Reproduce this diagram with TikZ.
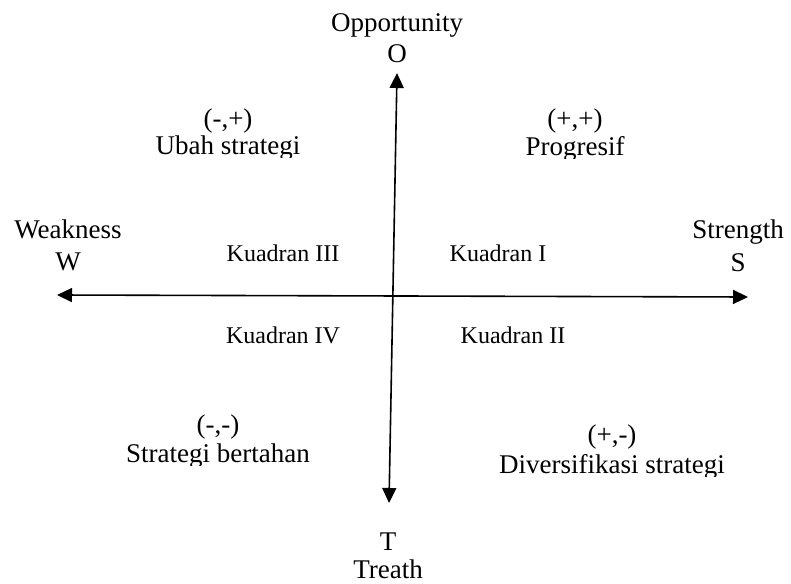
\documentclass[tikz,border=0pt]{standalone}
\usepackage{fontspec}
\setmainfont{Liberation Serif}
\usetikzlibrary{arrows.meta}
\tikzset{
  axis/.style={line width=1.6pt,{Triangle[length=15pt,width=14pt]}-{Triangle[length=15pt,width=14pt]}},
  big/.style={inner sep=0pt,anchor=base,font=\fontsize{27}{30}\selectfont},
  small/.style={inner sep=0pt,anchor=base,font=\fontsize{24}{28}\selectfont}
}
\begin{document}
\begin{tikzpicture}[x=1pt,y=-1pt]
\useasboundingbox[fill=white] (0,0) rectangle (791,583);
% axis ends
\coordinate (top) at (397,73);
\coordinate (bot) at (389,503);
\coordinate (lft) at (57,295);
\coordinate (rgt) at (748,297);
\draw[axis] (bot) -- (top);
\draw[axis] (lft) -- (rgt);
% axis labels
\node[big] (opp) at (397,32) {Opportunity};
\node[big] (o) at (397,63) {O};
\node[big] (weak) at (68,238) {Weakness};
\node[big] (w) at (68,270) {W};
\node[big] (str) at (738,238) {Strength};
\node[big] (s) at (738,271) {S};
\node[big] (t) at (388,550) {T};
\node[big] (tr) at (388,578) {Treath};
% quadrants
\node[small] (k3) at (283,261) {Kuadran III};
\node[small] (k1) at (498,261) {Kuadran I};
\node[small] (k4) at (283,343) {Kuadran IV};
\node[small] (k2) at (513,343) {Kuadran II};
% strategies
\node[big] (q2s) at (228,127) {(-,+)};
\begin{scope}
\clip (100,100) rectangle (360,157);
\node[big] (q2t) at (228,154) {Ubah strategi};
\end{scope}
\node[big] (q1s) at (575,127) {(+,+)};
\begin{scope}
\clip (480,100) rectangle (680,158);
\node[big] (q1t) at (575,155) {Progresif};
\end{scope}
\node[big] (q3s) at (218,433) {(-,-)};
\begin{scope}
\clip (80,400) rectangle (360,465);
\node[big] (q3t) at (218,462) {Strategi bertahan};
\end{scope}
\node[big] (q4s) at (612,443) {(+,-)};
\begin{scope}
\clip (460,410) rectangle (780,476);
\node[big] (q4t) at (612,473) {Diversifikasi strategi};
\end{scope}
\end{tikzpicture}
\end{document}
